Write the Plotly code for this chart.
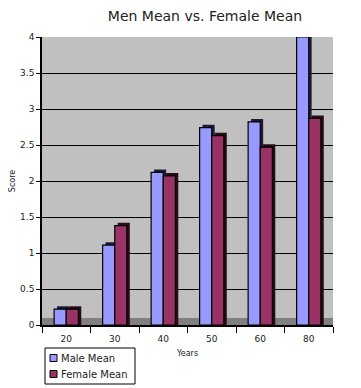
import plotly.graph_objects as go

years = ["20", "30", "40", "50", "60", "80"]
male_mean = [0.22, 1.11, 2.12, 2.74, 2.82, 4.0]
female_mean = [0.22, 1.38, 2.07, 2.63, 2.47, 2.87]
y_ticks = [0, 0.5, 1, 1.5, 2, 2.5, 3, 3.5, 4]
y_tick_text = ["0", "0.5", "1", "1.5", "2", "2.5", "3", "3.5", "4"]
series_names = ["Male Mean", "Female Mean"]
series_colors = ["#9999ff", "#993366"]
side_colors = ["#1c1c3a", "#2a0a1a"]

BAR_W = 0.25
DEPTH_X = 0.06
DEPTH_Y = 0.04

W, H = 353, 380
ML, MR, MT, MB = 34, 28, 29, 63
PW, PH = W - ML - MR, H - MT - MB


def px_x(X):
    # screen pixel (page has 8px body margin) -> paper x
    return (X - 8 - ML) / PW


def px_y(Y):
    return (H - MB - (Y - 8)) / PH


fig = go.Figure()
series_vals = [male_mean, female_mean]
offsets = [-BAR_W, 0.0]
for vals, off, col in zip(series_vals, offsets, side_colors):
    fig.add_trace(go.Bar(x=years, y=[v + DEPTH_Y for v in vals], width=BAR_W, offset=off + DEPTH_X,
                         marker=dict(color=col, line=dict(width=0)), showlegend=False,
                         hoverinfo="skip"))
for vals, off, col, name in zip(series_vals, offsets, series_colors, series_names):
    fig.add_trace(go.Bar(x=years, y=vals, name=name, width=BAR_W, offset=off,
                         marker=dict(color=col, line=dict(color="black", width=1.2)),
                         showlegend=False))

# floor of the 3D chart
shapes = [dict(type="rect", xref="paper", yref="paper", layer="below",
               x0=0, x1=1, y0=0, y1=px_y(318),
               fillcolor="#808080", line=dict(width=0))]
# legend box drawn as shapes + text annotations (compact, like the original)
shapes.append(dict(type="rect", xref="paper", yref="paper",
                   x0=px_x(45), x1=px_x(135), y0=px_y(348), y1=px_y(384),
                   fillcolor="white", line=dict(color="black", width=1)))
annotations = []
for i, (name, col) in enumerate(zip(series_names, series_colors)):
    yc = 358 + 16 * i
    shapes.append(dict(type="rect", xref="paper", yref="paper",
                       x0=px_x(50), x1=px_x(57), y0=px_y(yc - 3.5), y1=px_y(yc + 3.5),
                       fillcolor=col, line=dict(color="black", width=1)))
    annotations.append(dict(text=name, xref="paper", yref="paper", x=px_x(59), y=px_y(yc),
                            xanchor="left", yanchor="middle", showarrow=False,
                            font=dict(size=10, color="#222")))

fig.update_layout(
    width=W, height=H,
    margin=dict(l=ML, r=MR, t=MT, b=MB, autoexpand=False),
    paper_bgcolor="white",
    plot_bgcolor="#c0c0c0",
    barmode="overlay",
    font=dict(family="DejaVu Sans", size=9, color="#222"),
    title=dict(text="Men Mean vs. Female Mean", x=0.558, xanchor="center", y=0.978, yanchor="middle",
               font=dict(family="DejaVu Sans", size=14, color="#222")),
    showlegend=False,
    shapes=shapes,
    annotations=annotations,
)
fig.update_yaxes(range=[0, 4], tickvals=y_ticks, ticktext=y_tick_text,
                 showgrid=True, gridcolor="black", gridwidth=1,
                 showline=True, linecolor="black", linewidth=1.5,
                 ticks="outside", ticklen=4, tickcolor="black",
                 title=dict(text="Score", font=dict(size=8), standoff=6),
                 zeroline=False, automargin=False)
fig.update_xaxes(showline=True, linecolor="black", linewidth=1.5,
                 ticks="outside", tickson="boundaries", ticklen=6, tickcolor="black",
                 ticklabelstandoff=4,
                 title=dict(text="Years", font=dict(size=8), standoff=8),
                 automargin=False)

fig.write_html("out.html")
